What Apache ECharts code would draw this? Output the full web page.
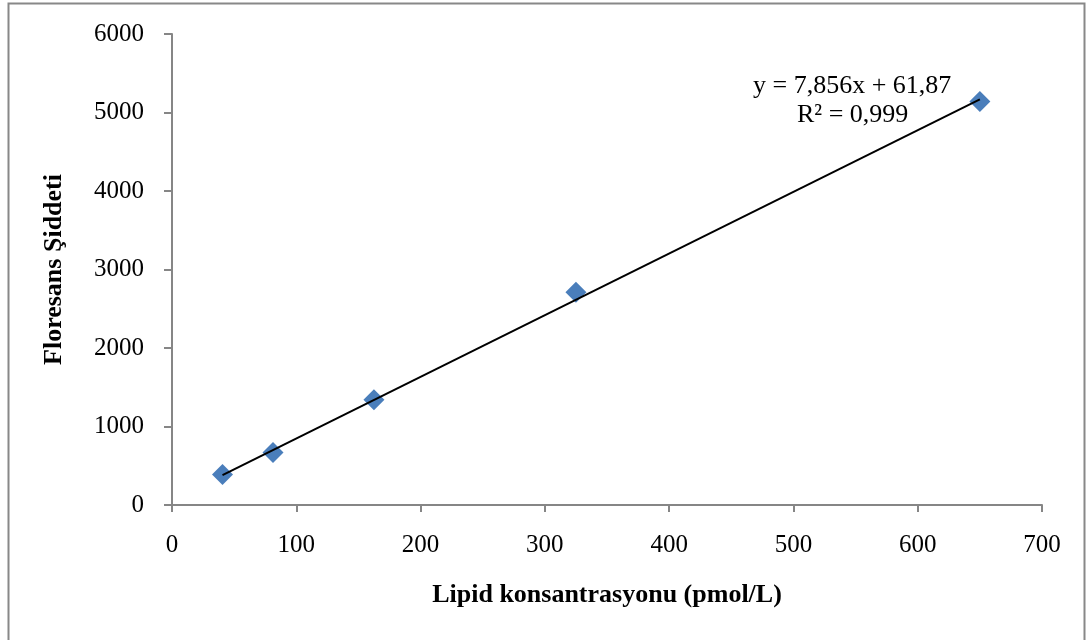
<!DOCTYPE html>
<html><head><meta charset="utf-8">
<script src="https://cdn.jsdelivr.net/npm/echarts@6/dist/echarts.min.js"></script>
<style>html,body{margin:0;padding:0;background:#fff}#c{width:1086px;height:640px}</style>
</head><body><div id="c"></div>
<script>
const xValues = [40.625, 81.25, 162.5, 325, 650];
const yValues = [390, 670, 1340, 2710, 5140];
const slope = 7.856, intercept = 61.87;
const eqText = 'y = 7,856x + 61,87';
const r2Text = 'R² = 0,999';
const xName = 'Lipid konsantrasyonu (pmol/L)';
const yName = 'Floresans Şiddeti';

const pts = xValues.map((x, i) => [x, yValues[i]]);
const xmin = Math.min(...xValues), xmax = Math.max(...xValues);
const trend = [[xmin, slope * xmin + intercept], [xmax, slope * xmax + intercept]];
const font = '"Liberation Serif","Times New Roman",serif';
const chart = echarts.init(document.getElementById('c'));
chart.setOption({
  animation: false,
  backgroundColor: '#fff',
  grid: {left: 172, right: 44, top: 34, bottom: 135},
  graphic: [
    {type: 'rect', shape: {x: 8.5, y: 3.5, width: 1076, height: 700}, style: {fill: 'none', stroke: '#888', lineWidth: 2}, z: -1},
    {type: 'text', left: 753, top: 73, style: {text: eqText, font: '26px ' + font, fill: '#000'}},
    {type: 'text', left: 797, top: 102, style: {text: r2Text, font: '26px ' + font, fill: '#000'}}
  ],
  xAxis: {
    type: 'value', min: 0, max: 700, interval: 100,
    name: xName, nameLocation: 'middle', nameGap: 77,
    nameTextStyle: {fontFamily: font, fontSize: 26, fontWeight: 'bold', color: '#000'},
    axisLine: {lineStyle: {color: '#868686', width: 2}},
    axisTick: {show: true, length: 7, lineStyle: {color: '#868686', width: 2}},
    axisLabel: {fontFamily: font, fontSize: 25, color: '#000', margin: 28, formatter: v => String(v)},
    splitLine: {show: false}
  },
  yAxis: {
    type: 'value', min: 0, max: 6000, interval: 1000,
    name: yName, nameLocation: 'middle', nameGap: 105, nameRotate: 90,
    nameTextStyle: {fontFamily: font, fontSize: 26, fontWeight: 'bold', color: '#000'},
    axisLine: {show: true, lineStyle: {color: '#868686', width: 2}},
    axisTick: {show: true, length: 8, lineStyle: {color: '#868686', width: 2}},
    axisLabel: {fontFamily: font, fontSize: 25, color: '#000', margin: 28, formatter: v => String(v)},
    splitLine: {show: false}
  },
  series: [
    {type: 'scatter', data: pts, symbol: 'diamond', symbolSize: 21,
     itemStyle: {color: '#4A7EBB', opacity: 1}, z: 2},
    {type: 'line', data: trend, symbol: 'none', lineStyle: {color: '#000', width: 2}, z: 3}
  ]
});
</script></body></html>
